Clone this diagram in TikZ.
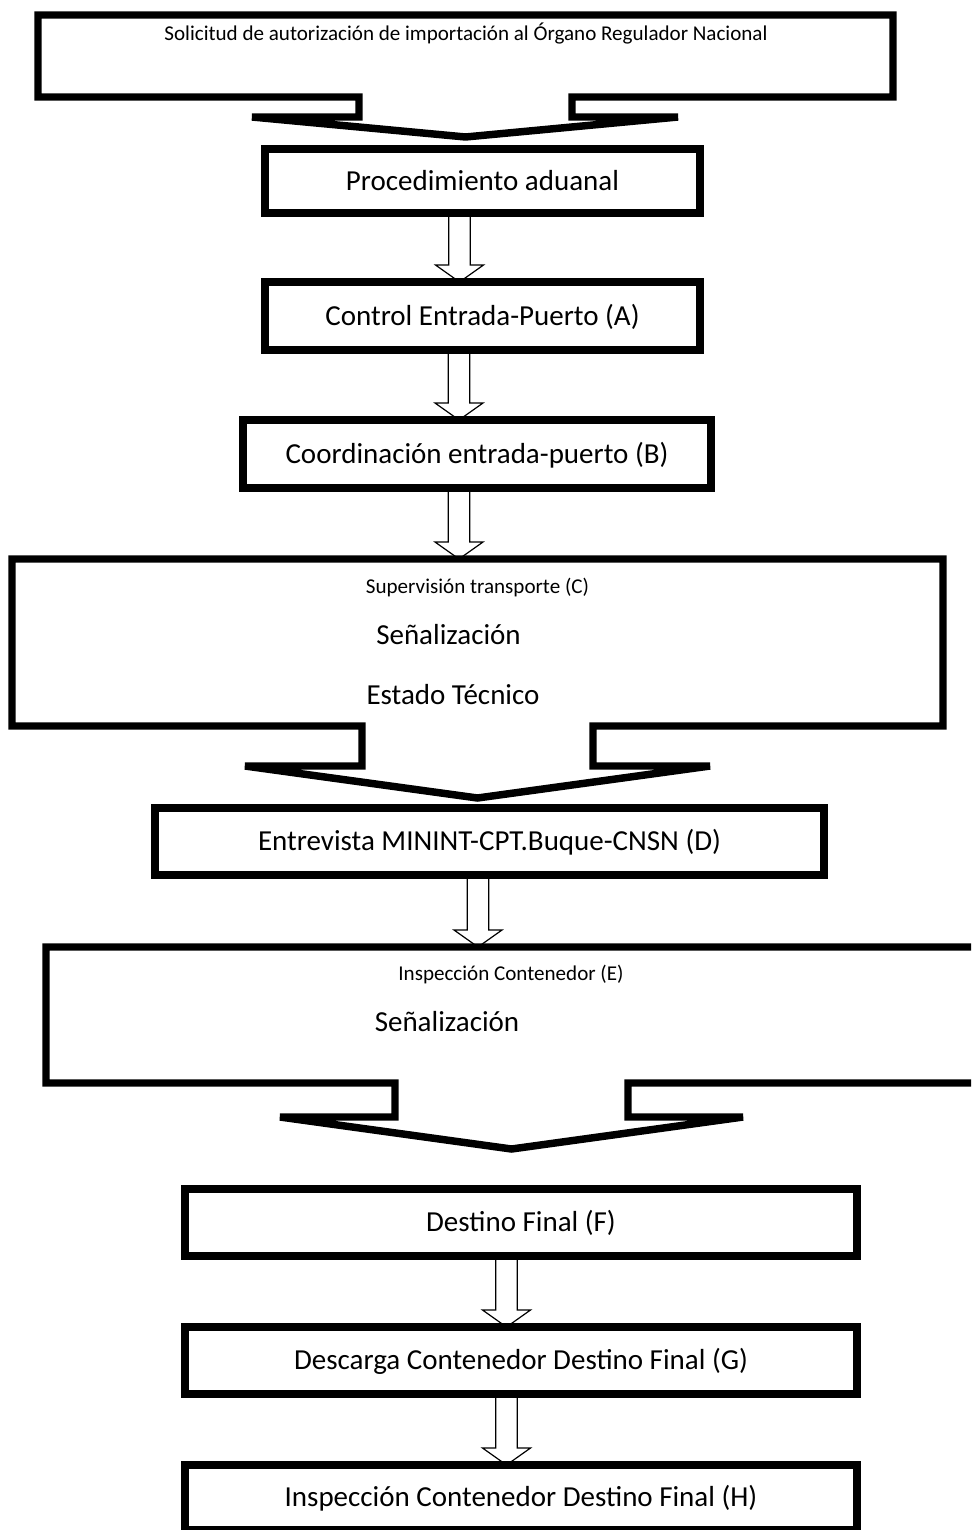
\documentclass[tikz,border=0pt]{standalone}
\usepackage{fontspec}
\setmainfont{Carlito}
\usetikzlibrary{calc}
\newcommand{\bigtxt}{\fontsize{21.75}{26}\selectfont}
\newcommand{\smalltxt}{\fontsize{15.8}{19}\selectfont}
\newcommand{\harrow}[3]{\draw[hollow] let \p1=($(#1)+(#3,0)$), \p2=(#2) in
  (\x1-8pt,\y1) -- (\x1-8pt,\y2+12.75pt) -- (\x1-18pt,\y2+12.75pt) -- (\x1,\y2)
  -- (\x1+18pt,\y2+12.75pt) -- (\x1+8pt,\y2+12.75pt) -- (\x1+8pt,\y1);}
\begin{document}
\begin{tikzpicture}[x=0.75pt,y=-0.75pt,
  box/.style={draw, line width=5.6pt, outer sep=0pt, inner sep=0pt, font=\bigtxt, text height=14pt, text depth=0pt},
  callout/.style={draw, line width=5.6pt, line join=miter},
  hollow/.style={draw, line width=0.9pt},
  smalllbl/.style={anchor=base, inner sep=0pt, font=\smalltxt},
  biglbl/.style={anchor=base, inner sep=0pt, font=\bigtxt}]
\useasboundingbox (0,0) rectangle (971,1530);
\fill[white] (0,0) rectangle (971,1530);
\clip (0,0) rectangle (971,1530);

% plain boxes
\node[box, minimum width={435*0.75pt}, minimum height={64*0.75pt}] (P) at (482.5,181) {Procedimiento aduanal};
\node[box, minimum width={435*0.75pt}, minimum height={68*0.75pt}] (A) at (482.5,316) {Control Entrada-Puerto (A)};
\node[box, minimum width={468*0.75pt}, minimum height={68*0.75pt}] (B) at (477,454) {Coordinación entrada-puerto (B)};
\node[box, minimum width={669*0.75pt}, minimum height={67*0.75pt}] (D) at (489.5,841.5) {Entrevista MININT-CPT.Buque-CNSN (D)};
\node[box, minimum width={672*0.75pt}, minimum height={67*0.75pt}] (F) at (521,1222.5) {Destino Final (F)};
\node[box, minimum width={672*0.75pt}, minimum height={67*0.75pt}] (G) at (521,1360.5) {Descarga Contenedor Destino Final (G)};
\node[box, minimum width={672*0.75pt}, minimum height={65*0.75pt}] (H) at (521,1497.5) {Inspección Contenedor Destino Final (H)};

% callout 1
\coordinate (S1) at (465.5,137);
\draw[callout] (38,15) -- (893,15) -- (893,97) -- (572,97) -- (572,117) -- (678,117) -- (S1)
  -- (252,117) -- (359,117) -- (359,97) -- (38,97) -- cycle;
\node[smalllbl] (T1) at (466,41) {Solicitud de autorización de importación al Órgano Regulador Nacional};

% callout C
\coordinate (Ctop) at (477.5,559);
\coordinate (SC) at (477.5,798);
\draw[callout] (12,559) -- (943,559) -- (943,726) -- (593,726) -- (593,766) -- (710,766) -- (SC)
  -- (245,766) -- (362,766) -- (362,726) -- (12,726) -- cycle;
\node[smalllbl] (TC) at (477.5,593) {Supervisión transporte (C)};
\node[biglbl] (TC2) at (448.5,644) {Señalización};
\node[biglbl] (TC3) at (453,704) {Estado Técnico};

% callout E
\coordinate (Etop) at (511.5,947);
\coordinate (SE) at (511.5,1149);
\draw[callout] (46,947) -- (977,947) -- (977,1083) -- (628,1083) -- (628,1117) -- (743,1117) -- (SE)
  -- (280,1117) -- (395,1117) -- (395,1083) -- (46,1083) -- cycle;
\node[smalllbl] (TE) at (511,980) {Inspección Contenedor (E)};
\node[biglbl] (TE2) at (447,1031) {Señalización};

% hollow block arrows
\harrow{P.south}{A.north}{-23}
\harrow{A.south}{B.north}{-23.5}
\harrow{B.south}{Ctop}{-18}
\harrow{D.south}{Etop}{-11.5}
\harrow{F.south}{G.north}{-14.5}
\harrow{G.south}{H.north}{-14.5}
\end{tikzpicture}
\end{document}
